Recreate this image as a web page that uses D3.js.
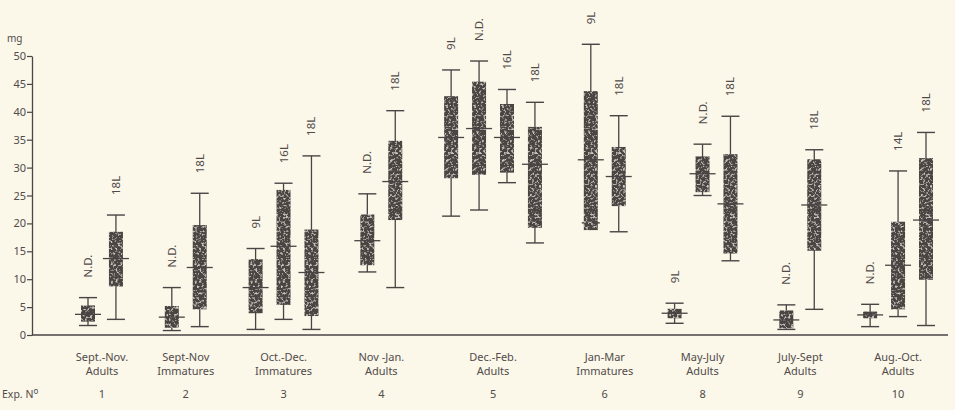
<!DOCTYPE html>
<html>
<head>
<meta charset="utf-8">
<script src="https://cdn.jsdelivr.net/npm/d3@7"></script>
<style>
  body { margin: 0; background: #fbf7e9; }
  text { font-family: "Noto Sans", sans-serif; fill: #514b49; }
</style>
</head>
<body>
<div id="chart"></div>
<script>
// groups (experiments)
const groupLine1 = ["Sept.-Nov.", "Sept-Nov", "Oct.-Dec.", "Nov -Jan.", "Dec.-Feb.", "Jan-Mar", "May-July", "July-Sept", "Aug.-Oct."];
const groupLine2 = ["Adults", "Immatures", "Immatures", "Adults", "Adults", "Immatures", "Adults", "Adults", "Adults"];
const expNo = ["1", "2", "3", "4", "5", "6", "8", "9", "10"];

// boxes, in order, with the group each belongs to
const boxGroup = [0, 0, 1, 1, 2, 2, 2, 3, 3, 4, 4, 4, 4, 5, 5, 6, 6, 6, 7, 7, 8, 8, 8];
const boxLabel = ["N.D.", "18L", "N.D.", "18L", "9L", "16L", "18L", "N.D.", "18L", "9L", "N.D.", "16L", "18L",
                  "9L", "18L", "9L", "N.D.", "18L", "N.D.", "18L", "N.D.", "14L", "18L"];
const whiskerLow = [1.7, 2.8, 0.8, 1.5, 1.0, 2.8, 1.0, 11.3, 8.5, 21.3, 22.4, 27.3, 16.5, 20.1, 18.5, 2.1, 25.0, 13.3, 1.0, 4.6, 1.5, 3.3, 1.7];
const q1 =         [2.4, 8.7, 1.3, 4.6, 3.9, 5.4, 3.4, 12.5, 20.6, 28.1, 28.7, 29.1, 19.2, 18.8, 23.1, 3.0, 25.6, 14.6, 1.2, 15.1, 3.0, 4.6, 9.9];
const median =     [3.7, 13.7, 3.2, 12.1, 8.5, 15.9, 11.2, 16.9, 27.5, 35.4, 37.0, 35.4, 30.6, 31.4, 28.4, 3.9, 28.9, 23.5, 2.7, 23.3, 3.6, 12.5, 20.6];
const q3 =         [5.3, 18.5, 5.2, 19.7, 13.6, 26.0, 18.9, 21.6, 34.8, 42.8, 45.4, 41.4, 37.3, 43.7, 33.7, 4.7, 32.0, 32.4, 4.4, 31.5, 4.2, 20.3, 31.7];
const whiskerHigh = [6.7, 21.5, 8.5, 25.4, 15.5, 27.2, 32.1, 25.3, 40.2, 47.5, 49.1, 44.0, 41.7, 52.1, 39.3, 5.7, 34.2, 39.2, 5.4, 33.2, 5.5, 29.4, 36.3];

const yTicks = [0, 5, 10, 15, 20, 25, 30, 35, 40, 45, 50];

const width = 955, height = 410;
const ink = "#4a4444";

const svg = d3.select("#chart").append("svg")
    .attr("width", width)
    .attr("height", height);

// mottled texture for the boxes
const defs = svg.append("defs");
const f = defs.append("filter").attr("id", "speck");
f.append("feTurbulence").attr("type", "fractalNoise").attr("baseFrequency", 0.42)
    .attr("numOctaves", 3).attr("seed", 7).attr("result", "n");
f.append("feColorMatrix").attr("in", "n").attr("type", "matrix")
    .attr("values", "0 0 0 0 0.60  0 0 0 0 0.58  0 0 0 0 0.55  4.5 0 0 0 -2.4").attr("result", "s");
f.append("feComposite").attr("in", "s").attr("in2", "SourceGraphic").attr("operator", "atop");

const boxes = boxLabel.map((lab, i) => ({
    id: "b" + i, group: boxGroup[i], label: lab,
    lo: whiskerLow[i], q1: q1[i], med: median[i], q3: q3[i], hi: whiskerHigh[i]
}));

// slot domain: boxes with one empty slot between groups
const slots = [];
groupLine1.forEach((g, gi) => {
    if (gi > 0) slots.push("gap" + gi);
    boxes.filter(b => b.group === gi).forEach(b => slots.push(b.id));
});

const x = d3.scalePoint().domain(slots).range([88, 926]);
const y = d3.scaleLinear().domain([0, 50]).range([335, 56]);

// y axis
const yAxis = svg.append("g")
    .attr("transform", "translate(32,0)")
    .call(d3.axisLeft(y).tickValues(yTicks).tickSize(5).tickSizeOuter(0).tickFormat(d3.format("d")));
yAxis.select(".domain").attr("stroke", ink).attr("stroke-width", 1.3);
yAxis.selectAll(".tick line").attr("stroke", ink).attr("stroke-width", 1.2);
yAxis.selectAll(".tick text").attr("x", -6).style("font-size", "11px")
    .style("font-family", "'Noto Sans', sans-serif").attr("fill", "#514b49");

svg.append("text").attr("x", 7).attr("y", 42).text("mg").style("font-size", "10px");

// baseline
svg.append("line")
    .attr("x1", 32).attr("x2", 948)
    .attr("y1", y(0)).attr("y2", y(0))
    .attr("stroke", ink).attr("stroke-width", 1.4);

const bw = 14, capW = 18, medW = 26;

const g = svg.selectAll(".box").data(boxes).join("g").attr("class", "box")
    .attr("transform", d => `translate(${x(d.id)},0)`);

g.append("line")
    .attr("x1", 0).attr("x2", 0)
    .attr("y1", d => y(d.hi)).attr("y2", d => y(Math.min(d.lo, d.q1)))
    .attr("stroke", ink).attr("stroke-width", 1.3);

g.append("line")
    .attr("x1", -capW / 2).attr("x2", capW / 2)
    .attr("y1", d => y(d.hi)).attr("y2", d => y(d.hi))
    .attr("stroke", ink).attr("stroke-width", 1.4);

g.append("line")
    .attr("x1", -capW / 2).attr("x2", capW / 2)
    .attr("y1", d => y(d.lo)).attr("y2", d => y(d.lo))
    .attr("stroke", ink).attr("stroke-width", 1.4);

g.append("rect")
    .attr("x", -bw / 2).attr("width", bw)
    .attr("y", d => y(d.q3))
    .attr("height", d => y(d.q1) - y(d.q3))
    .attr("fill", "#4b4443")
    .attr("filter", "url(#speck)");

g.append("line")
    .attr("x1", -medW / 2).attr("x2", medW / 2)
    .attr("y1", d => y(d.med)).attr("y2", d => y(d.med))
    .attr("stroke", ink).attr("stroke-width", 1.3);

// rotated labels above each whisker
g.append("text")
    .attr("transform", d => `translate(4,${y(d.hi) - 20}) rotate(-90)`)
    .attr("text-anchor", "start")
    .style("font-size", "11.5px")
    .text(d => d.label);

// group labels
const groupX = groupLine1.map((t, gi) => d3.mean(boxes.filter(b => b.group === gi), b => x(b.id)));

svg.selectAll(".gl1").data(groupLine1).join("text")
    .attr("x", (d, i) => groupX[i]).attr("y", 361)
    .attr("text-anchor", "middle").style("font-size", "11px").text(d => d);
svg.selectAll(".gl2").data(groupLine2).join("text")
    .attr("x", (d, i) => groupX[i]).attr("y", 375)
    .attr("text-anchor", "middle").style("font-size", "11px").text(d => d);
svg.selectAll(".exp").data(expNo).join("text")
    .attr("x", (d, i) => groupX[i]).attr("y", 398)
    .attr("text-anchor", "middle").style("font-size", "11px").text(d => d);

const en = svg.append("text").attr("x", 2).attr("y", 398).style("font-size", "10.5px");
en.append("tspan").text("Exp. N");
en.append("tspan").attr("dy", -4).style("font-size", "8px").text("o");
</script>
</body>
</html>
